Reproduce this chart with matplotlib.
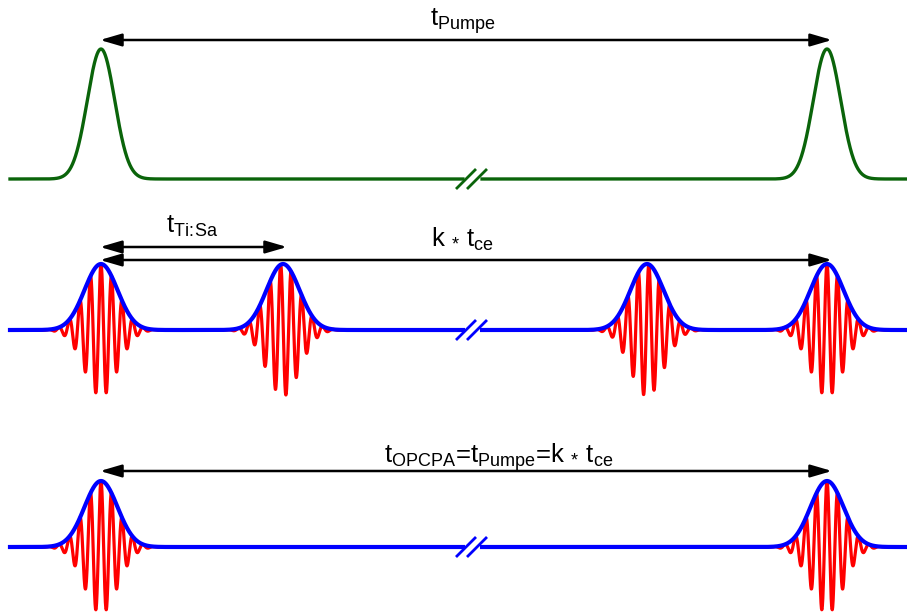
import numpy as np
import matplotlib.pyplot as plt
from matplotlib.patches import FancyArrowPatch

plt.rcParams['font.family'] = ['Liberation Sans', 'DejaVu Sans']
plt.rcParams['mathtext.fontset'] = 'custom'
plt.rcParams['mathtext.rm'] = 'Liberation Sans'
plt.rcParams['mathtext.it'] = 'Liberation Sans:italic'
plt.rcParams['mathtext.bf'] = 'Liberation Sans:bold'

# pulse centres (time axis, drawn in pixel-like units) and carrier-envelope phases
pump_centers = [101, 827]
tisa_centers = [101, 283, 647, 827]
tisa_phases = [0.0, 1.4, -1.1, 0.0]
opcpa_centers = [101, 827]
opcpa_phases = [0.0, 0.0]

# arrows: start, end, height, label
arrow_x0 = [100, 100, 100, 100]
arrow_x1 = [832, 287, 832, 832]
arrow_y = [40, 247, 260, 471]
labels = [r'$\mathrm{t}_{\mathrm{Pumpe}}$',
          r'$\mathrm{t}_{\mathrm{Ti\!:\!Sa}}$',
          r'k $_{*}$ $\mathrm{t}_{\mathrm{ce}}$',
          r'$\mathrm{t}_{\mathrm{OPCPA}}$=$\mathrm{t}_{\mathrm{Pumpe}}$=k $_{*}$ $\mathrm{t}_{\mathrm{ce}}$']
label_x = [463, 192, 462, 499]
label_y = [26, 233, 247, 463]

SIGMA_PUMP = 13.7
SIGMA = 16.5
PERIOD = 10.5
GAP = (463, 482)


def envelope(x, centers, sigma):
    out = np.zeros_like(x)
    for c in centers:
        out += np.exp(-(x - c) ** 2 / (2 * sigma ** 2))
    return out


def field(x, centers, phases, sigma):
    out = np.zeros_like(x)
    for c, p in zip(centers, phases):
        out += np.exp(-(x - c) ** 2 / (2 * sigma ** 2)) * np.cos(2 * np.pi * (x - c) / PERIOD + p)
    return out


def with_gap(x, y):
    y = y.copy()
    y[(x > GAP[0]) & (x < GAP[1])] = np.nan
    return y


def draw_break(ax, base, color):
    for xc in [466, 477]:
        ax.plot([xc - 10, xc + 10], [base + 10, base - 10], color=color, lw=2.0,
                solid_capstyle='butt')


fig = plt.figure(figsize=(9.07, 6.12), dpi=100)
ax = fig.add_axes([0, 0, 1, 1])
ax.set_xlim(0, 907)
ax.set_ylim(612, 0)
ax.axis('off')

x = np.linspace(10, 907, 6000)

# pump pulses
base = 179
y = base - 130 * envelope(x, pump_centers, SIGMA_PUMP)
ax.plot(x, with_gap(x, y), color='#0a640a', lw=2.4)
draw_break(ax, base, '#0a640a')

# Ti:Sa and OPCPA pulse trains
for base, centers, phases in [(330, tisa_centers, tisa_phases),
                              (547, opcpa_centers, opcpa_phases)]:
    amp = 66
    red = base - amp * field(x, centers, phases, SIGMA)
    blue = base - amp * envelope(x, centers, SIGMA)
    ax.plot(x, with_gap(x, red), color='#ff0000', lw=2.3, zorder=2)
    ax.plot(x, with_gap(x, blue), color='#0000ff', lw=3.0, zorder=3)
    draw_break(ax, base, '#0000ff')

for x0, x1, ya, lab, lx, ly in zip(arrow_x0, arrow_x1, arrow_y, labels, label_x, label_y):
    arr = FancyArrowPatch((x0, ya), (x1, ya), arrowstyle='<|-|>,head_length=1.3,head_width=0.38',
                          mutation_scale=10, color='black', lw=1.8, shrinkA=0, shrinkB=0, zorder=5)
    ax.add_patch(arr)
    ax.text(lx, ly, lab, ha='center', va='baseline', fontsize=18.5, color='black')

fig.savefig('out.png', dpi=100, facecolor='white')
